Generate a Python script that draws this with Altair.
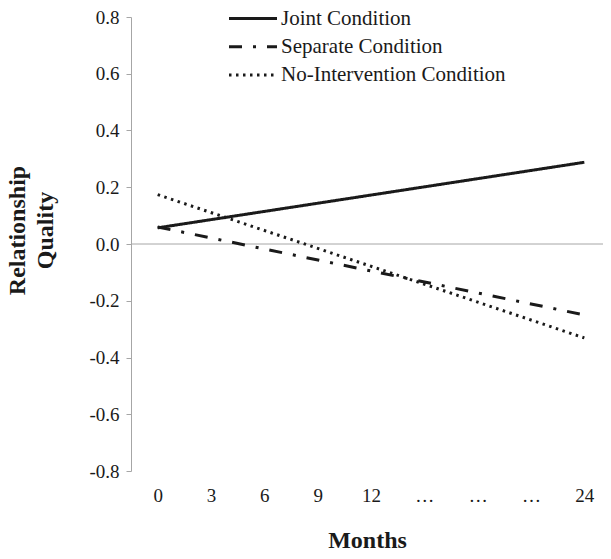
import json
import altair as alt
import pandas as pd

# ---- data ----
month_labels = ["0", "3", "6", "9", "12", "…", "…", "…", "24"]
month_pos = [0, 8]  # index on the month axis of the two plotted endpoints
conditions = ["Joint Condition", "Separate Condition", "No-Intervention Condition"]
joint = [0.057, 0.288]
separate = [0.060, -0.250]
no_intervention = [0.174, -0.331]
y_ticks = [-0.8, -0.6, -0.4, -0.2, 0.0, 0.2, 0.4, 0.6, 0.8]
zero_level = [0.0]

rows = []
for cond, vals in zip(conditions, [joint, separate, no_intervention]):
    for p, v in zip(month_pos, vals):
        rows.append({"condition": cond, "pos": p, "value": v})
df = pd.DataFrame(rows)

FONT = "Liberation Serif"
INK = "#1a1a1a"
GRAY = "#a6a6a6"

label_expr = json.dumps(month_labels, ensure_ascii=False) + "[datum.value]"

x_enc = alt.X(
    "pos:Q",
    scale=alt.Scale(domain=[-0.5, 8.35], nice=False, zero=False),
    axis=alt.Axis(
        values=list(range(len(month_labels))),
        labelExpr=label_expr,
        title="Months",
        domain=False,
        ticks=False,
        grid=False,
        labelFlush=False,
        labelOverlap=False,
        labelPadding=15,
        labelFont=FONT,
        labelFontSize=19,
        labelColor=INK,
        titleFont=FONT,
        titleFontSize=24,
        titleFontWeight="bold",
        titleColor=INK,
        titlePadding=23,
    ),
)

y_enc = alt.Y(
    "value:Q",
    scale=alt.Scale(domain=[-0.8, 0.8], nice=False, zero=False),
    axis=alt.Axis(
        values=y_ticks,
        labelExpr="replace(format(datum.value, '.1f'), '\u2212', '-')",
        title=["Relationship", "\u00a0" * 8 + "Quality"],
        grid=False,
        labelFlush=False,
        tickSize=5,
        labelPadding=7,
        labelFont=FONT,
        labelFontSize=19,
        labelColor=INK,
        domainColor=GRAY,
        tickColor=GRAY,
        titleFont=FONT,
        titleFontSize=24,
        titleFontWeight="bold",
        titleColor=INK,
        titleAngle=270,
        titleAlign="center",
        titleBaseline="bottom",
        titleLineHeight=28,
        titleX=-102,
        titleY=213,
    ),
)

rule = alt.Chart(pd.DataFrame({"value": zero_level})).mark_rule(
    color=GRAY, strokeWidth=1
).encode(y=alt.Y("value:Q"))

lines = alt.Chart(df).mark_line(color=INK, strokeWidth=3, strokeCap="butt").encode(
    x=x_enc,
    y=y_enc,
    strokeDash=alt.StrokeDash(
        "condition:N",
        scale=alt.Scale(
            domain=conditions,
            range=[[1, 0], [13, 11, 3, 11], [2.5, 4.5]],
        ),
        legend=alt.Legend(
            title=None,
            orient="none",
            legendX=111.5,
            legendY=-9,
            symbolType="M-4.8,0H4.8",
            symbolSize=100,
            symbolStrokeWidth=3,
            symbolStrokeColor=INK,
            symbolFillColor="transparent",
            symbolOffset=0,
            labelOffset=17.5,
            labelFont=FONT,
            labelFontSize=21,
            labelColor=INK,
            labelLimit=400,
            rowPadding=6.3,
            padding=0,
        ),
    ),
)

chart = (
    alt.layer(rule, lines)
    .properties(
        width=472,
        height=454,
        autosize=alt.AutoSizeParams(type="none"),
        padding={"left": 123, "top": 9, "right": 0, "bottom": 80},
    )
    .configure(font=FONT)
    .configure_view(stroke=None)
)

chart.save("out.html", embed_options={"renderer": "svg", "actions": False})
